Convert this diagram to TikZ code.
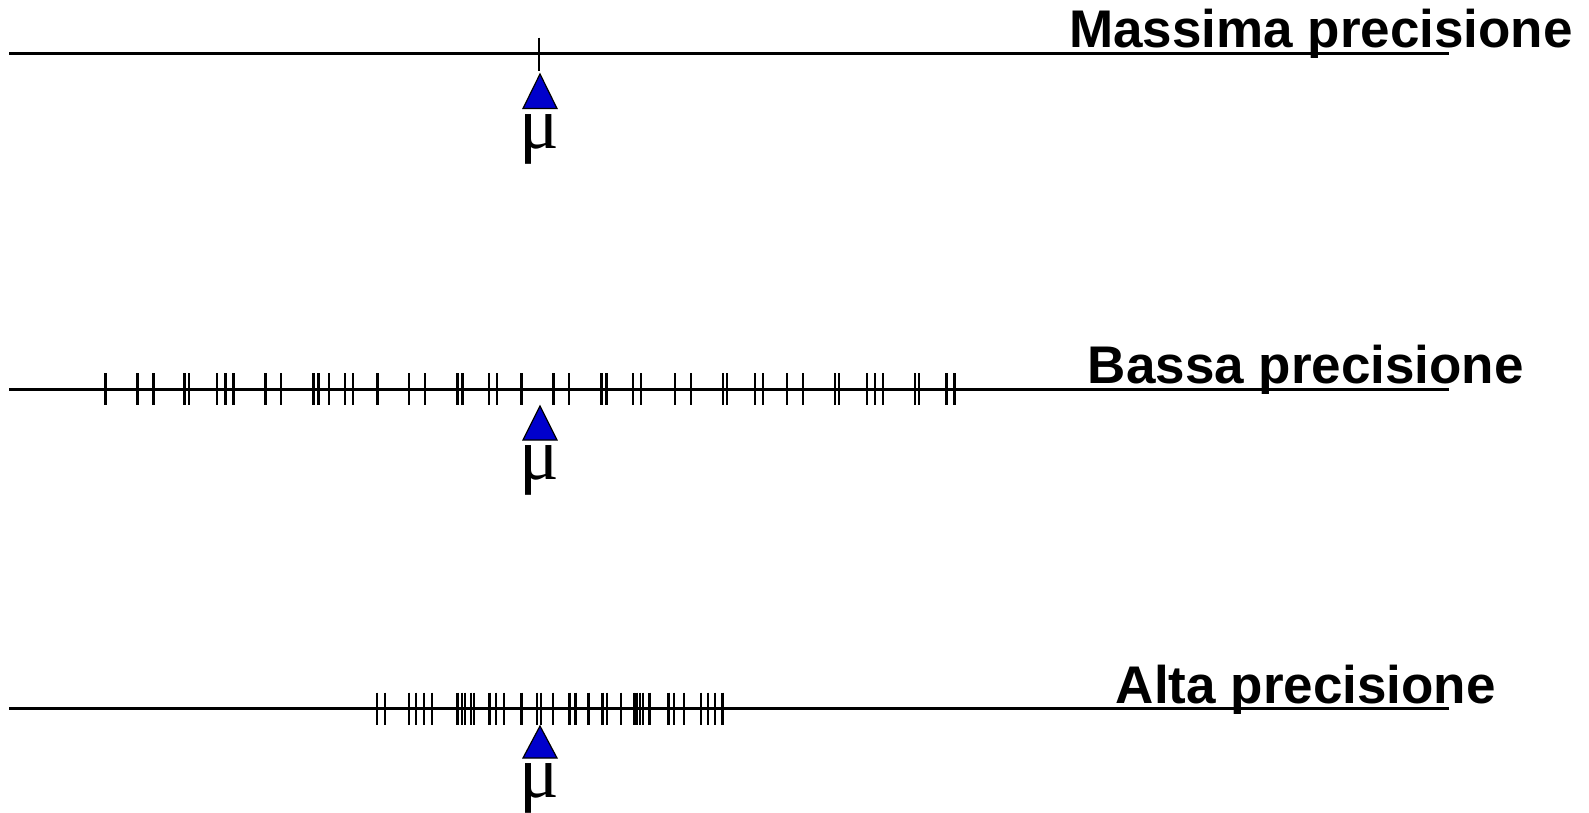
\documentclass[tikz,border=0pt]{standalone}
\usepackage{fontspec}
\setmainfont{Liberation Sans}
\newfontfamily\mufont{Liberation Serif}
\definecolor{triblue}{RGB}{0,0,204}
\begin{document}
\begin{tikzpicture}[x=1pt,y=-1pt,
  axis/.style={line width=3pt},
  tick/.style={line width=2.6pt},
  thintick/.style={line width=1.6pt},
  marker/.style={fill=triblue,draw=black,line width=1.2pt,line join=miter},
  title/.style={anchor=base east,inner sep=0pt,font=\fontsize{53}{53}\selectfont\bfseries},
  mulabel/.style={anchor=base,inner sep=0pt,font=\fontsize{74}{74}\selectfont\mufont}]
\useasboundingbox (0,0) rectangle (1589,812);

% Row 1: Massima precisione
\coordinate (a1) at (9,53);
\coordinate (b1) at (1449,53);
\draw[axis] (a1) -- (b1);
\draw[thintick] (539,37.5) -- (539,71);
\draw[marker] (540,74) -- (557,108.5) -- (523,108.5) -- cycle;
\node[mulabel] (mu1) at (539,148) {μ};
\node[title] (t1) at (1573,47.5) {Massima precisione};

% Row 2: Bassa precisione
\coordinate (a2) at (9,389);
\coordinate (b2) at (1449,389);
\draw[axis] (a2) -- (b2);
\foreach \x in {105.6,137.5,153.2,184.6,189,217.1,225.2,233.2,265.4,281,313.2,318.5,328.8,345,353,377.2,409,425,457.2,462.5,489,497,521.2,553.3,569,601.2,606.5,633,641,675,691,723,727,755,763,787,803,835,839,867,875,883,915,919,946.5,954.5}
  \draw[tick] (\x,373) -- (\x,405);
\draw[marker] (540,406) -- (557,440) -- (523,440) -- cycle;
\node[mulabel] (mu2) at (539,479) {μ};
\node[title] (t2) at (1524,383) {Bassa precisione};

% Row 3: Alta precisione
\coordinate (a3) at (9,708.5);
\coordinate (b3) at (1449,708.5);
\draw[axis] (a3) -- (b3);
\foreach \x in {377,385,409,416,424,432,457.5,462,465,471,474,489.5,496,504,521.5,537,541,553,569.5,575.5,588.5,602.5,607,621,634,636.5,640,643,649.5,668.5,674,684,701,708,715,722.5}
  \draw[tick] (\x,692.5) -- (\x,725);
\draw[marker] (540,726) -- (557,758) -- (523,758) -- cycle;
\node[mulabel] (mu3) at (539,797) {μ};
\node[title] (t3) at (1496,703) {Alta precisione};
\end{tikzpicture}
\end{document}
